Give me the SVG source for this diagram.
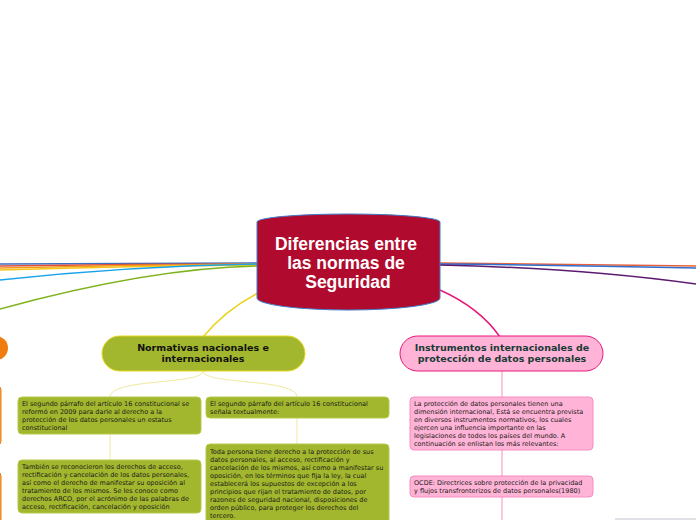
<svg xmlns="http://www.w3.org/2000/svg" width="696" height="520" viewBox="0 0 696 520">
<style>
.t{font-family:"DejaVu Sans",Verdana,sans-serif;font-size:6.5px;fill:#1a1a1a}
.h{font-family:"DejaVu Sans",Verdana,sans-serif;font-size:9.5px;font-weight:bold;text-anchor:middle}
.c{fill:none;stroke-width:1.5}
.gb{fill:#a2b72e;stroke:#b8c94a;stroke-width:1}
.pb{fill:#ffb3d6;stroke:#f58cc0;stroke-width:1}
</style>
<rect width="696" height="520" fill="#ffffff"/>
<g id="connectors">
<path class="c" stroke="#3b6fc0" d="M258,263 Q130,263 0,264"/>
<path class="c" stroke="#e0503c" d="M258,264 Q130,264 0,266"/>
<path class="c" stroke="#f39a1e" d="M258,264 Q130,265 0,268"/>
<path class="c" stroke="#f5c518" d="M258,265 Q130,266 0,270"/>
<path class="c" stroke="#1aa3e8" d="M258,264 Q130,266 0,280"/>
<path class="c" stroke="#7fb21d" d="M258,266 Q150,268 0,309"/>
<path class="c" stroke="#e8603a" d="M440,263 Q570,264 696,266"/>
<path class="c" stroke="#2f6fd0" d="M440,264 Q570,265 696,268"/>
<path class="c" stroke="#5a1a6e" d="M440,265 Q580,268 696,284"/>
<path class="c" stroke="#e8197a" d="M440,290 Q480,308 500,337"/>
<path class="c" stroke="#e8d21c" d="M258,293 Q225,310 203,337"/>
<path fill="none" stroke="#f2e9a0" stroke-width="1" d="M203,371 C203,385 110,378 110,397"/>
<path fill="none" stroke="#f2e9a0" stroke-width="1" d="M203,371 C203,385 297,378 297,397"/>
<path fill="none" stroke="#f2e9a0" stroke-width="1" d="M110,434 V460"/>
<path fill="none" stroke="#f2e9a0" stroke-width="1" d="M297,418 V444"/>
<path fill="none" stroke="#ffa0cc" stroke-width="1.2" d="M502,371 V520"/>
<path fill="none" stroke="#c8c0d0" stroke-width="1.2" d="M615,519 H696"/>
</g>
<g id="left-offscreen">
<circle cx="-4" cy="348" r="12" fill="#f07c10"/>
<rect x="-60" y="386" width="61" height="59" rx="4" fill="#f5a040" stroke="#f07c10"/>
<rect x="-60" y="472" width="61" height="60" rx="4" fill="#f5a040" stroke="#f07c10"/>
</g>
<g id="center">
<path d="M257,222 A91.5,8 0 0 1 440,222 V298 A91.5,12 0 0 1 257,298 Z" fill="#b00b2e" stroke="#3d7cc9" stroke-width="1"/>
<g font-family="'Liberation Sans',Arial,sans-serif" font-size="17.5" font-weight="bold" fill="#ffffff" text-anchor="middle">
<text x="346" y="250">Diferencias entre</text>
<text x="346" y="269">las normas de</text>
<text x="348" y="288">Seguridad</text>
</g>
</g>
<g id="normativas">
<rect x="102" y="336" width="203" height="35" rx="17.5" fill="#a2b72e" stroke="#e8d81c" stroke-width="1"/>
<text class="h" x="203" y="351" fill="#111">Normativas nacionales e</text>
<text class="h" x="203" y="362" fill="#111">internacionales</text>
</g>
<g id="instrumentos">
<rect x="400" y="336" width="203" height="35" rx="17.5" fill="#ffb3d6" stroke="#e8197a" stroke-width="1"/>
<text class="h" x="502" y="351" fill="#173a35">Instrumentos internacionales de</text>
<text class="h" x="502" y="362" fill="#173a35">protección de datos personales</text>
</g>
<g id="box1">
<rect class="gb" x="18" y="397" width="183" height="37" rx="4"/>
<text class="t" x="22" y="406">El segundo párrafo del artículo 16 constitucional se</text>
<text class="t" x="22" y="414">reformó en 2009 para darle al derecho a la</text>
<text class="t" x="22" y="422">protección de los datos personales un estatus</text>
<text class="t" x="22" y="430">constitucional</text>
</g>
<g id="box2">
<rect class="gb" x="206" y="397" width="183" height="21" rx="4"/>
<text class="t" x="210" y="406">El segundo párrafo del artículo 16 constitucional</text>
<text class="t" x="210" y="414">señala textualmente:</text>
</g>
<g id="box3">
<rect class="gb" x="18" y="460" width="183" height="53" rx="4"/>
<text class="t" x="22" y="469">También se reconocieron los derechos de acceso,</text>
<text class="t" x="22" y="477">rectificación y cancelación de los datos personales,</text>
<text class="t" x="22" y="485">así como el derecho de manifestar su oposición al</text>
<text class="t" x="22" y="493">tratamiento de los mismos. Se les conoce como</text>
<text class="t" x="22" y="501">derechos ARCO, por el acrónimo de las palabras de</text>
<text class="t" x="22" y="509">acceso, rectificación, cancelación y oposición</text>
</g>
<g id="box4">
<rect class="gb" x="206" y="444" width="183" height="80" rx="4"/>
<text class="t" x="210" y="454">Toda persona tiene derecho a la protección de sus</text>
<text class="t" x="210" y="462">datos personales, al acceso, rectificación y</text>
<text class="t" x="210" y="470">cancelación de los mismos, así como a manifestar su</text>
<text class="t" x="210" y="478">oposición, en los términos que fija la ley, la cual</text>
<text class="t" x="210" y="486">establecerá los supuestos de excepción a los</text>
<text class="t" x="210" y="494">principios que rijan el tratamiento de datos, por</text>
<text class="t" x="210" y="502">razones de seguridad nacional, disposiciones de</text>
<text class="t" x="210" y="510">orden público, para proteger los derechos del</text>
<text class="t" x="210" y="518">tercero.</text>
</g>
<g id="box5">
<rect class="pb" x="410" y="397" width="183" height="53" rx="4"/>
<text class="t" x="414" y="406">La protección de datos personales tienen una</text>
<text class="t" x="414" y="414">dimensión internacional, Está se encuentra prevista</text>
<text class="t" x="414" y="422">en diversos instrumentos normativos, los cuales</text>
<text class="t" x="414" y="430">ejercen una influencia importante en las</text>
<text class="t" x="414" y="438">legislaciones de todos los países del mundo. A</text>
<text class="t" x="414" y="446">continuación se enlistan los más relevantes:</text>
</g>
<g id="box6">
<rect class="pb" x="410" y="476" width="183" height="21" rx="4"/>
<text class="t" x="414" y="485">OCDE: Directrices sobre protección de la privacidad</text>
<text class="t" x="414" y="493">y flujos transfronterizos de datos personales(1980)</text>
</g>
</svg>
